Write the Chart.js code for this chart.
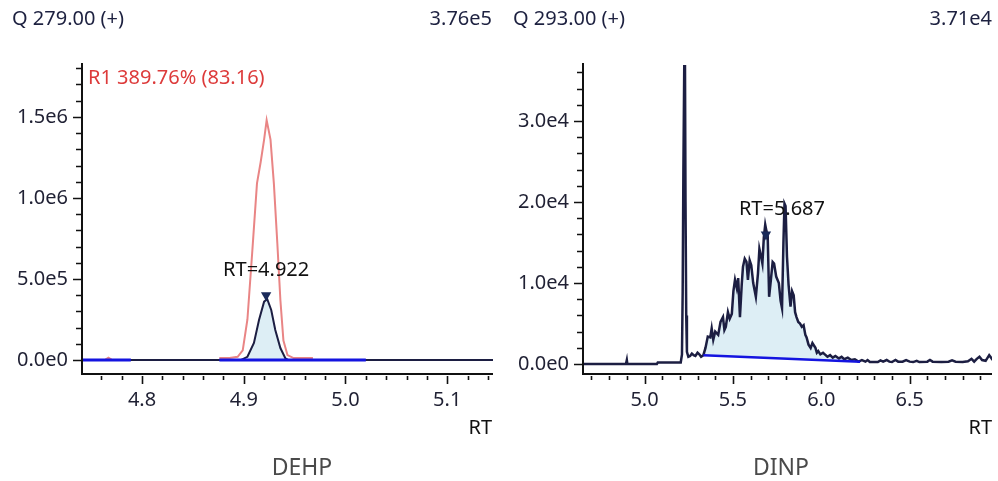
<!DOCTYPE html>
<html>
<head>
<meta charset="utf-8">
<script src="https://cdn.jsdelivr.net/npm/chart.js@4.4.1/dist/chart.umd.min.js"></script>
<style>
  body { margin: 0; background: #fff; }
  #wrap { position: relative; width: 998px; height: 481px; overflow: hidden; }
  canvas { position: absolute; top: 0; }
  .t { position: absolute; font-family: 'Noto Sans', sans-serif; font-size: 20px; line-height: 24px; white-space: nowrap; color: #1d2140; }
  .name { font-size: 23px; line-height: 28px; color: #4a4a4a; transform: translateX(-50%); }
</style>
</head>
<body>
<div id="wrap">
  <canvas id="dehp" width="499" height="481" style="left:0"></canvas>
  <canvas id="dinp" width="499" height="481" style="left:499px"></canvas>

  <div class="t" style="left:12px;top:6px">Q 279.00 (+)</div>
  <div class="t" style="right:506px;top:6px">3.76e5</div>
  <div class="t" style="left:88px;top:65px;color:#dd3b3b">R1 389.76% (83.16)</div>
  <div class="t" style="right:506px;top:415px;color:#111">RT</div>
  <div class="t name" style="left:302px;top:452px">DEHP</div>

  <div class="t" style="left:513px;top:6px">Q 293.00 (+)</div>
  <div class="t" style="right:6px;top:6px">3.71e4</div>
  <div class="t" style="right:6px;top:415px;color:#111">RT</div>
  <div class="t name" style="left:781px;top:452px">DINP</div>
</div>

<script>
// ---- DEHP (left) ----
const dehpRT  = [4.741, 4.897, 4.9036, 4.910, 4.915, 4.920, 4.9231, 4.927, 4.931, 4.936, 4.941, 4.944, 5.145];
const dehpInt = [0, 0, 2e4, 1.05e5, 2.47e5, 3.6e5, 3.76e5, 3.09e5, 1.85e5, 7.4e4, 1e4, 0, 0];

// reference trace R1 (red), null = gap
const dehpRefRT  = [4.764, 4.767, 4.770, 4.771, 4.876, 4.886, 4.894, 4.899, 4.9036, 4.9085, 4.913, 4.9166, 4.920, 4.9225, 4.9263, 4.9296, 4.933, 4.936, 4.939, 4.943, 4.949, 4.968];
const dehpRefInt = [3e3, 1.5e4, 3e3, null, 1.2e4, 1.2e4, 2e4, 6e4, 2.5e5, 6.8e5, 1.09e6, 1.22e6, 1.36e6, 1.48e6, 1.36e6, 1.09e6, 7.2e5, 3.7e5, 1.2e5, 3e4, 1.2e4, 1.2e4];

const dehpBase1RT  = [4.741, 4.789];
const dehpBase1Int = [0, 0];
const dehpPeakBaseRT  = [4.876, 5.02];
const dehpPeakBaseInt = [0, 0];
const dehpPeakFrom = 4.897, dehpPeakTo = 4.944;
const dehpMarker = { rt: 4.922, y: 4.0e5, text: 'RT=4.922' };

const dehpXTicks = [4.8, 4.9, 5.0, 5.1];
const dehpXLabels = ['4.8', '4.9', '5.0', '5.1'];
const dehpYTicks = [0, 5e5, 1e6, 1.5e6];
const dehpYLabels = ['0.0e0', '5.0e5', '1.0e6', '1.5e6'];

// ---- DINP (right) ----
const dinpRT = [4.652, 4.895, 4.900, 4.903, 5.070, 5.075, 5.205, 5.212, 5.216, 5.220, 5.225, 5.229, 5.232, 5.236, 5.240,
  5.248, 5.258, 5.268, 5.278, 5.288, 5.300, 5.310, 5.320, 5.333, 5.345, 5.358, 5.372, 5.380, 5.389, 5.400,
  5.417, 5.430, 5.444, 5.452, 5.460, 5.472, 5.482, 5.494, 5.503, 5.512, 5.522, 5.530, 5.540, 5.550, 5.557,
  5.567, 5.577, 5.585, 5.595, 5.604, 5.615, 5.630, 5.642, 5.650, 5.660, 5.667, 5.675, 5.683, 5.690, 5.697,
  5.705, 5.715, 5.725, 5.733, 5.745, 5.760, 5.770, 5.778, 5.786, 5.792, 5.798, 5.806, 5.815, 5.826, 5.835,
  5.844, 5.852, 5.860, 5.870, 5.880, 5.890, 5.900, 5.910, 5.917, 5.928, 5.940, 5.950, 5.967, 5.975, 5.983,
  5.995, 6.010, 6.020, 6.035, 6.050, 6.065, 6.080, 6.100, 6.115, 6.130, 6.150, 6.170, 6.190, 6.210, 6.230,
  6.250, 6.262, 6.275, 6.320, 6.335, 6.350, 6.370, 6.385, 6.400, 6.420, 6.435, 6.460, 6.480, 6.500, 6.520,
  6.540, 6.555, 6.600, 6.615, 6.630, 6.680, 6.720, 6.740, 6.760, 6.800, 6.830, 6.850, 6.865, 6.880, 6.895,
  6.910, 6.930, 6.950, 6.960, 6.970];
const dinpInt = [0, 0, 500, 0, 0, 200, 200, 1200, 9000, 24000, 37100, 37000, 20000, 6000, 1500,
  900, 1000, 1300, 1100, 1000, 1400, 1200, 900, 1100, 2000, 3400, 3300, 4400, 3000, 4000,
  3600, 5200, 5800, 4200, 4600, 6400, 5600, 6200, 9000, 10400, 9400, 10600, 5800, 9800, 12000,
  13000, 12600, 10400, 12800, 12200, 10000, 8300, 11200, 14200, 13200, 12400, 15600, 17200, 16400, 15800,
  8300, 10400, 12600, 12400, 10800, 10000, 7800, 6900, 15000, 19800, 19500, 13300, 9800, 7100, 9000,
  8500, 6400, 5800, 5200, 5000, 4600, 4800, 3600, 3300, 2400, 2000, 2600, 2000, 1400, 1600,
  1200, 1400, 1200, 900, 1100, 800, 1000, 700, 900, 600, 800, 500, 600, 300, 500,
  300, 500, 250, 250, 450, 300, 500, 300, 250, 500, 300, 300, 500, 300, 250,
  400, 250, 300, 500, 300, 250, 300, 450, 300, 250, 350, 650, 300, 650, 900,
  500, 400, 1100, 800, 500];

const dinpBaseRT  = [5.333, 6.22];
const dinpBaseInt = [1100, 300];
const dinpPeakFrom = 5.333, dinpPeakTo = 6.22;
const dinpMarker = { rt: 5.687, y: 1.6e4, text: 'RT=5.687' };

const dinpXTicks = [5.0, 5.5, 6.0, 6.5];
const dinpXLabels = ['5.0', '5.5', '6.0', '6.5'];
const dinpYTicks = [0, 1e4, 2e4, 3e4];
const dinpYLabels = ['0.0e0', '1.0e4', '2.0e4', '3.0e4'];

// colours
const traceColor = '#1c1e42';
const baseColor = '#1414e0';
const fillColor = '#ddeef5';
const refColor = '#e98585';

Chart.defaults.font.family = "'Noto Sans', sans-serif";
Chart.defaults.font.size = 20;
Chart.defaults.color = '#1f2033';

function pts(xs, ys) {
    return xs.map((x, i) => ({ x: x, y: ys[i] }));
}

// axis lines plus minor / major tick marks
const axisTicks = {
    id: 'axisTicks',
    afterDraw(chart, args, o) {
        var ctx = chart.ctx, xs = chart.scales.x, ys = chart.scales.y, a = chart.chartArea;
        ctx.save();
        ctx.strokeStyle = '#111';
        ctx.lineWidth = 2;
        ctx.beginPath();
        ctx.moveTo(a.left, a.top - 2);
        ctx.lineTo(a.left, a.bottom + 1);
        ctx.lineTo(a.right, a.bottom + 1);
        ctx.stroke();

        ctx.lineWidth = 1.6;
        ctx.beginPath();
        for (let i = Math.ceil(xs.min / o.xMinor - 1e-6); i * o.xMinor <= xs.max + 1e-9; i++) {
            let v = i * o.xMinor;
            let major = Math.abs(v / o.xMajor - Math.round(v / o.xMajor)) < 1e-6;
            let px = Math.round(xs.getPixelForValue(v)) + 0.5;
            ctx.moveTo(px, a.bottom + 3);
            ctx.lineTo(px, a.bottom + 3 + (major ? 8 : 4));
        }
        for (let i = Math.ceil(ys.min / o.yMinor - 1e-6); i * o.yMinor <= ys.max + 1e-9; i++) {
            let v = i * o.yMinor;
            let major = Math.abs(v / o.yMajor - Math.round(v / o.yMajor)) < 1e-6;
            let py = Math.round(ys.getPixelForValue(v)) + 0.5;
            ctx.moveTo(a.left - 1, py);
            ctx.lineTo(a.left - 1 - (major ? 8 : 5), py);
        }
        ctx.stroke();
        ctx.restore();
    }
};

// "RT=..." text above the peak marker
const peakLabel = {
    id: 'peakLabel',
    afterDatasetsDraw(chart, args, o) {
        var ctx = chart.ctx;
        var px = chart.scales.x.getPixelForValue(o.rt);
        var py = chart.scales.y.getPixelForValue(o.y);
        ctx.save();
        ctx.font = "20px 'Noto Sans', sans-serif";
        ctx.fillStyle = '#111';
        ctx.textAlign = 'center';
        ctx.textBaseline = 'middle';
        ctx.fillText(o.text, px + o.dx, py - 25);
        ctx.restore();
    }
};

function makeChart(id, cfg) {
    var c = new Chart(document.getElementById(id), {
        type: 'line',
        data: { datasets: cfg.datasets },
        options: {
            responsive: false,
            animation: false,
            layout: { padding: { top: 65, right: cfg.padRight, left: 0, bottom: 0 } },
            elements: { point: { radius: 0 }, line: { tension: 0 } },
            plugins: {
                legend: { display: false },
                tooltip: { enabled: false },
                axisTicks: cfg.ticks,
                peakLabel: cfg.label
            },
            scales: {
                x: {
                    type: 'linear',
                    min: cfg.xMin, max: cfg.xMax,
                    grid: { display: false, drawTicks: false },
                    border: { display: false },
                    afterBuildTicks: s => { s.ticks = cfg.xTicks.map(v => ({ value: v })); },
                    afterFit: s => { s.height = 108; },
                    ticks: {
                        autoSkip: false, maxRotation: 0, padding: 15,
                        callback: v => cfg.xLabels[cfg.xTicks.indexOf(v)]
                    }
                },
                y: {
                    min: cfg.yMin, max: cfg.yMax,
                    grid: { display: false, drawTicks: false },
                    border: { display: false },
                    afterBuildTicks: s => { s.ticks = cfg.yTicks.map(v => ({ value: v })); },
                    afterFit: s => { s.width = cfg.yWidth; },
                    ticks: {
                        autoSkip: false, padding: 14,
                        callback: v => cfg.yLabels[cfg.yTicks.indexOf(v)]
                    }
                }
            }
        },
        plugins: [axisTicks, peakLabel]
    });
    return c;
}

function marker(m) {
    return {
        data: [{ x: m.rt, y: m.y }],
        showLine: false,
        pointStyle: 'triangle', rotation: 180, pointRadius: 6,
        pointBackgroundColor: '#1a2a5a', pointBorderColor: '#1a2a5a', pointBorderWidth: 0
    };
}

// left: DEHP
var dehpTrace = pts(dehpRT, dehpInt);
makeChart('dehp', {
    xMin: 4.741, xMax: 5.145, yMin: -0.8e5, yMax: 1.82e6,
    yWidth: 82, padRight: 4,
    xTicks: dehpXTicks, xLabels: dehpXLabels, yTicks: dehpYTicks, yLabels: dehpYLabels,
    ticks: { xMinor: 0.02, xMajor: 0.1, yMinor: 1e5, yMajor: 5e5 },
    label: { rt: dehpMarker.rt, y: dehpMarker.y, text: dehpMarker.text, dx: 0 },
    datasets: [
        marker(dehpMarker),
        { data: pts(dehpBase1RT, dehpBase1Int), borderColor: baseColor, borderWidth: 3 },
        { data: pts(dehpPeakBaseRT, dehpPeakBaseInt), borderColor: baseColor, borderWidth: 3 },
        { data: dehpTrace, borderColor: traceColor, borderWidth: 2 },
        { data: dehpTrace.filter(p => p.x >= dehpPeakFrom && p.x <= dehpPeakTo), borderWidth: 0,
          borderColor: 'rgba(0,0,0,0)', backgroundColor: fillColor, fill: 2 },
        { data: pts(dehpRefRT, dehpRefInt), borderColor: refColor, borderWidth: 2, spanGaps: false }
    ]
});

// right: DINP
var dinpTrace = pts(dinpRT, dinpInt);
makeChart('dinp', {
    xMin: 4.652, xMax: 6.966, yMin: -1.1e3, yMax: 3.69e4,
    yWidth: 84, padRight: 3,
    xTicks: dinpXTicks, xLabels: dinpXLabels, yTicks: dinpYTicks, yLabels: dinpYLabels,
    ticks: { xMinor: 0.1, xMajor: 0.5, yMinor: 2e3, yMajor: 1e4 },
    label: { rt: dinpMarker.rt, y: dinpMarker.y, text: dinpMarker.text, dx: 16 },
    datasets: [
        marker(dinpMarker),
        { data: pts(dinpBaseRT, dinpBaseInt), borderColor: baseColor, borderWidth: 2.5 },
        { data: dinpTrace, borderColor: traceColor, borderWidth: 2.5 },
        { data: dinpTrace.filter(p => p.x >= dinpPeakFrom && p.x <= dinpPeakTo), borderWidth: 0,
          borderColor: 'rgba(0,0,0,0)', backgroundColor: fillColor, fill: 1 }
    ]
});
</script>
</body>
</html>
